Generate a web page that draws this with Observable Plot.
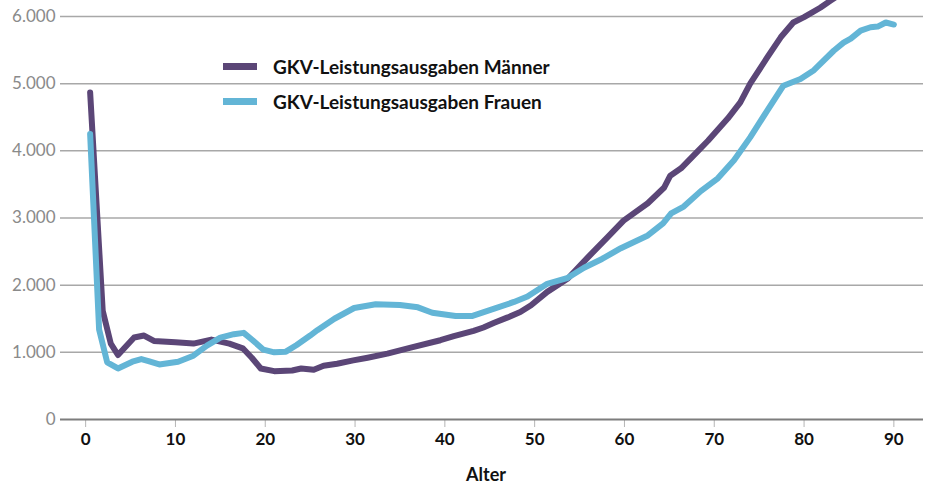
<!DOCTYPE html>
<html>
<head>
<meta charset="utf-8">
<script src="https://cdn.jsdelivr.net/npm/d3@7"></script>
<script src="https://cdn.jsdelivr.net/npm/@observablehq/plot@0.6"></script>
<style>
  html, body { margin: 0; padding: 0; background: #fff; }
  #wrap { position: relative; width: 926px; height: 486px; font-family: Lato, "Open Sans", sans-serif; }
  .legend { position: absolute; left: 223px; font-weight: bold; font-size: 19px; color: #111; display: flex; align-items: center; }
  .legend .sw { width: 34px; height: 7px; margin-right: 16px; }
</style>
</head>
<body>
<div id="wrap"></div>
<script>
// Ages and values (GKV-Leistungsausgaben in Euro)
const menAge = [0.5, 1.9, 2.8, 3.6, 5.4, 6.5, 7.6, 10, 12, 14, 16, 17.5, 18.5, 19.5, 21, 23, 24, 25.4, 26.5, 28, 29.8, 31.4, 33.6, 36.2, 39.5, 41, 43.2, 44.3, 45.5, 47, 48.4, 49.6, 51.4, 53.7, 55.9, 58.1, 59.9, 62.6, 64.4, 65.1, 66.3, 68.2, 69.3, 71.5, 72.9, 74, 75.9, 77.4, 78.8, 80, 81.8, 83, 84];
const menVal = [4870, 1620, 1130, 960, 1220, 1250, 1170, 1150, 1130, 1190, 1130, 1060, 920, 760, 720, 730, 760, 740, 800, 830, 880, 920, 980, 1070, 1180, 1240, 1320, 1370, 1440, 1520, 1600, 1700, 1900, 2100, 2410, 2710, 2960, 3220, 3450, 3630, 3740, 4000, 4150, 4480, 4720, 5000, 5390, 5690, 5910, 5990, 6130, 6240, 6330];
const womenAge = [0.5, 1.5, 2.4, 3.6, 5.2, 6.2, 7, 8.2, 10.3, 12, 13.5, 15, 16.5, 17.6, 18.6, 19.8, 21, 22.3, 23.5, 25, 25.8, 27.7, 29.9, 32.3, 35, 37, 38.6, 41.2, 43, 45.5, 47.7, 49.2, 51.4, 53.7, 55.5, 57.5, 59.6, 62.6, 64.3, 65.2, 66.6, 68.5, 70.4, 72.2, 74, 75.9, 77.7, 79.6, 81.1, 83.3, 84.4, 85.2, 86.3, 87.4, 88.2, 89.1, 90];
const womenVal = [4250, 1340, 850, 760, 860, 900, 870, 820, 860, 950, 1100, 1220, 1270, 1290, 1180, 1040, 1000, 1010, 1110, 1250, 1330, 1500, 1660, 1715, 1705, 1670, 1590, 1540, 1540, 1650, 1750, 1830, 2020, 2110, 2260, 2390, 2550, 2740, 2920, 3070, 3170, 3400, 3590, 3860, 4200, 4600, 4970, 5070, 5200, 5490, 5610, 5670, 5790, 5840, 5850, 5910, 5880];
const seriesNames = ["GKV-Leistungsausgaben Männer", "GKV-Leistungsausgaben Frauen"];
const seriesColors = ["#5b4677", "#63b5d6"];
const xTicks = [0, 10, 20, 30, 40, 50, 60, 70, 80, 90];
const yTicks = [0, 1000, 2000, 3000, 4000, 5000, 6000];
const xTitle = "Alter";

const data = [
  ...menAge.map((a, i) => ({age: a, value: menVal[i], series: seriesNames[0]})),
  ...womenAge.map((a, i) => ({age: a, value: womenVal[i], series: seriesNames[1]}))
];
const de = d3.formatLocale({decimal: ",", thousands: ".", grouping: [3], currency: ["", " €"]});
const fmt = de.format(",");

const chart = Plot.plot({
  width: 926,
  height: 486,
  marginLeft: 60,
  marginRight: 3,
  marginTop: 0,
  marginBottom: 67,
  style: {fontFamily: "Lato, 'Open Sans', sans-serif", background: "#fff"},
  x: {domain: [-2.8, 93.3]},
  y: {domain: [0, 6238]},
  color: {domain: seriesNames, range: seriesColors},
  marks: [
    Plot.ruleY(yTicks.filter(d => d > 0), {stroke: "#a8a8a8", strokeWidth: 1.5}),
    Plot.axisY(yTicks, {tickSize: 0, tickPadding: 5, tickFormat: fmt, fill: "#8a8a8a", fontSize: 17, label: null}),
    Plot.axisX(xTicks, {tickSize: 8, tickPadding: 5, stroke: "#b5b5b5", fill: "#111", fontSize: 17, fontWeight: "bold", label: null}),
    Plot.ruleY([0], {stroke: "#7d7d7d", strokeWidth: 2}),
    Plot.line(data, {x: "age", y: "value", z: "series", stroke: "series", strokeWidth: 6, strokeLinejoin: "round", strokeLinecap: "round", clip: true}),
    Plot.text([xTitle], {frameAnchor: "bottom", dy: 56, dx: -6, lineAnchor: "middle", fontSize: 18, fontWeight: "bold", fill: "#111"})
  ]
});
const wrap = document.getElementById("wrap");
wrap.appendChild(chart);
const tops = [66, 101];
seriesNames.forEach((n, i) => {
  const d = document.createElement("div");
  d.className = "legend";
  d.style.top = (tops[i] - 12) + "px";
  d.style.height = "24px";
  const sw = document.createElement("span");
  sw.className = "sw";
  sw.style.background = seriesColors[i];
  const t = document.createElement("span");
  t.textContent = n;
  d.appendChild(sw); d.appendChild(t);
  wrap.appendChild(d);
});
</script>
</body>
</html>
